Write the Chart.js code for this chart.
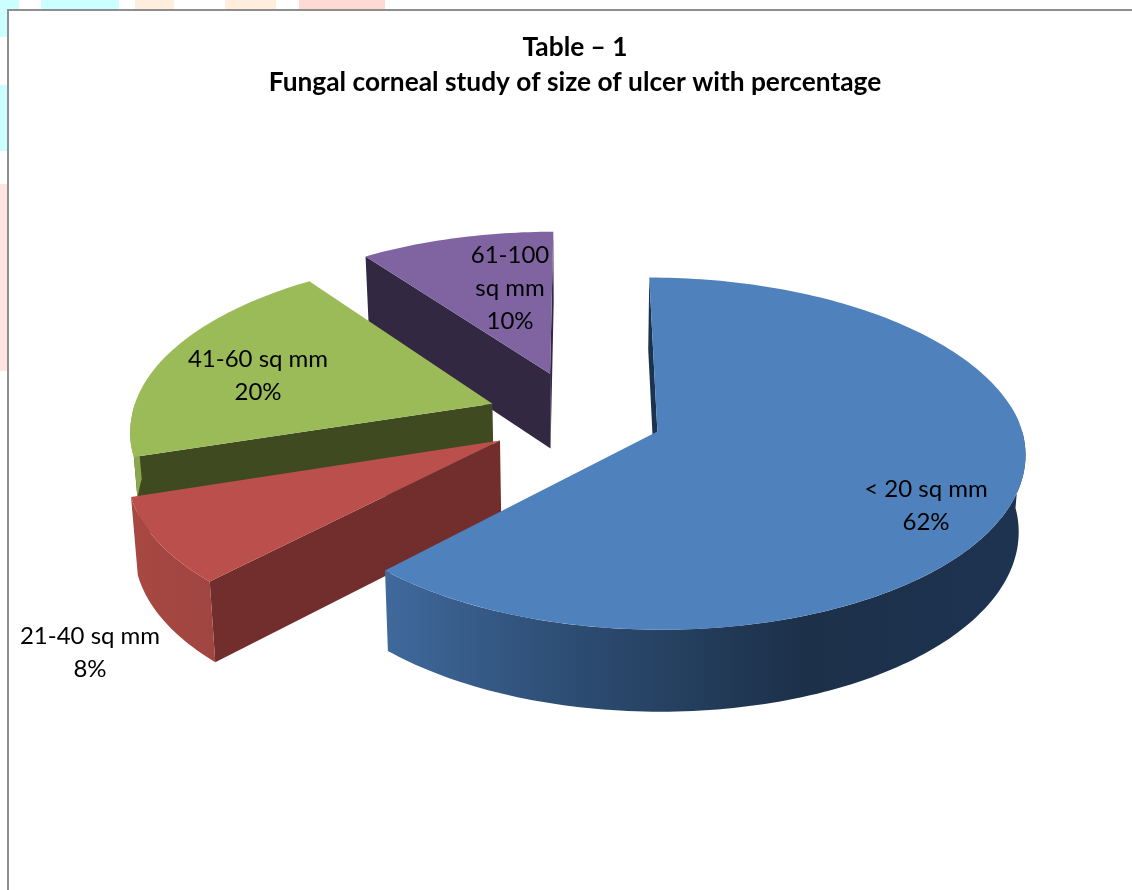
<html>
    <head>
        <script src="https://cdn.jsdelivr.net/npm/chart.js@4/dist/chart.umd.min.js"></script>
        <style type="text/css">
            html, body { margin: 0; padding: 0; background: #fff; overflow: hidden; }
            #page { position: relative; width: 1132px; height: 890px; overflow: hidden; }
            .wm { position: absolute; }
            #frame { position: absolute; left: 7px; top: 9px; width: 1130px; height: 890px; background: #fff;
                     border-top: 2px solid #8e8e8e; border-left: 2px solid #8e8e8e; }
            #myChart { position: absolute; left: 0; top: 0; }
        </style>
    </head>
    <body>
        <div id="page">
            <!-- bits of the page watermark that stick out around the chart -->
            <div class="wm" style="left:0;top:0;width:7px;height:37px;background:#ccffff"></div>
            <div class="wm" style="left:7px;top:0;width:12px;height:9px;background:#ccffff"></div>
            <div class="wm" style="left:41px;top:0;width:78px;height:9px;background:#ccffff"></div>
            <div class="wm" style="left:0;top:85px;width:7px;height:66px;background:#ccffff"></div>
            <div class="wm" style="left:0;top:184px;width:7px;height:187px;background:#ffe4e2"></div>
            <div class="wm" style="left:135px;top:0;width:39px;height:9px;background:#ffeedd"></div>
            <div class="wm" style="left:225px;top:0;width:51px;height:9px;background:#ffeedd"></div>
            <div class="wm" style="left:299px;top:0;width:86px;height:9px;background:#ffd9d4"></div>
            <div id="frame"></div>
            <canvas id="myChart" width="1132" height="890"></canvas>
        </div>

        <script>
        const categories = ['< 20 sq mm', '21-40 sq mm', '41-60 sq mm', '61-100 sq mm'];
        const percentages = [62, 8, 20, 10];
        const titleLines = ['Table \u2013 1', 'Fungal corneal study of size of ulcer with percentage'];

        const topColors = ['#4f81bd', '#bb4f4b', '#9bbb59', '#8064a2'];
        const faceColors = ['#1c3350', '#722d2d', '#3f4a21', '#322842'];
        const wallStops = [
            [[0, '#1d3350'], [0.35, '#1c3049'], [0.75, '#2f5078'], [1, '#40699c']],
            [[0, '#a04540'], [1, '#a84842']],
            [[0, '#8aa74f'], [1, '#8aa74f']],
            [[0, '#322842'], [1, '#322842']]
        ];
        const explode = [83, 92, 93, 100];

        // label text lines and where they are centred
        const labelBoxes = [
            { x: 926, y: 489, lines: ['< 20 sq mm', '62%'] },
            { x: 90, y: 636, lines: ['21-40 sq mm', '8%'] },
            { x: 258, y: 359, lines: ['41-60 sq mm', '20%'] },
            { x: 510, y: 255, lines: ['61-100', 'sq mm', '10%'] }
        ];

        // fake 3D camera
        const centerX = 580, centerY = 417;
        const tilt = 0.47, camDist = 2900, depth = 76, shrink = 0.0002, lean = 0.02;

        function project(u, v, z) {
            const f = camDist / (camDist - v);
            return {
                x: centerX + u * f * (1 - shrink * z) - lean * Math.max(v, 0),
                y: centerY + tilt * v * f + z * (1 + (f - 1) * 0.5)
            };
        }

        function fillPoly(ctx, pts, fill) {
            ctx.beginPath();
            pts.forEach((p, i) => i ? ctx.lineTo(p.x, p.y) : ctx.moveTo(p.x, p.y));
            ctx.closePath();
            ctx.fillStyle = fill;
            ctx.fill();
        }

        function rim(ox, oy, r, a0, a1, z) {
            const pts = [];
            const steps = Math.max(2, Math.ceil((a1 - a0) / 0.02));
            for (let i = 0; i <= steps; i++) {
                const a = a0 + (a1 - a0) * i / steps;
                pts.push(project(ox + r * Math.cos(a), oy + r * Math.sin(a), z));
            }
            return pts;
        }

        const pie3d = {
            id: 'pie3d',
            beforeDatasetsDraw(chart) {
                const ctx = chart.ctx;
                const arcs = chart.getDatasetMeta(0).data;
                // back to front so the nearer slices cover the others
                [3, 2, 1, 0].forEach(i => {
                    const arc = arcs[i];
                    const a0 = arc.startAngle, a1 = arc.endAngle, r = arc.outerRadius;
                    const mid = (a0 + a1) / 2;
                    const ox = arc.options.offset * Math.cos(mid);
                    const oy = arc.options.offset * Math.sin(mid);

                    // flat cut faces, only those turned to the camera
                    [[a0, 1], [a1, -1]].forEach(([a, side]) => {
                        const nx = side * Math.sin(a), ny = -side * Math.cos(a);
                        if (nx * (0 - ox) + ny * (camDist - oy) <= 0) return;
                        const ex = ox + r * Math.cos(a), ey = oy + r * Math.sin(a);
                        fillPoly(ctx, [project(ox, oy, 0), project(ex, ey, 0), project(ex, ey, depth), project(ox, oy, depth)], faceColors[i]);
                    });

                    // outer wall, front half only
                    const w0 = Math.max(a0, 0), w1 = Math.min(a1, Math.PI);
                    if (w1 > w0) {
                        const upper = rim(ox, oy, r, w0, w1, 0);
                        const lower = rim(ox, oy, r, w0, w1, depth).reverse();
                        const pts = upper.concat(lower);
                        const xs = pts.map(p => p.x);
                        const grad = ctx.createLinearGradient(Math.max(...xs), 0, Math.min(...xs), 0);
                        wallStops[i].forEach(s => grad.addColorStop(s[0], s[1]));
                        fillPoly(ctx, pts, grad);
                    }

                    // top of the slice
                    fillPoly(ctx, [project(ox, oy, 0)].concat(rim(ox, oy, r, a0, a1, 0)), arc.options.backgroundColor);
                });
                return false;
            },
            afterDraw(chart) {
                const ctx = chart.ctx;
                ctx.save();
                ctx.font = '24px Lato';
                ctx.fillStyle = '#000';
                ctx.textAlign = 'center';
                ctx.textBaseline = 'middle';
                labelBoxes.forEach(b => {
                    b.lines.forEach((t, n) => ctx.fillText(t, b.x, b.y + n * 33));
                });
                ctx.restore();
            }
        };

        new Chart(document.getElementById('myChart'), {
            type: 'pie',
            plugins: [pie3d],
            data: {
                labels: categories,
                datasets: [{
                    data: percentages,
                    backgroundColor: topColors,
                    offset: explode,
                    borderWidth: 0,
                    radius: 361
                }]
            },
            options: {
                responsive: false,
                animation: false,
                layout: { padding: { left: 18, top: 20 } },
                plugins: {
                    legend: { display: false },
                    tooltip: { enabled: false },
                    title: {
                        display: true,
                        text: titleLines,
                        color: '#000',
                        font: { family: 'Lato', size: 26.3, weight: 'bold', lineHeight: 1.33 }
                    }
                }
            }
        });
        </script>
    </body>
</html>
